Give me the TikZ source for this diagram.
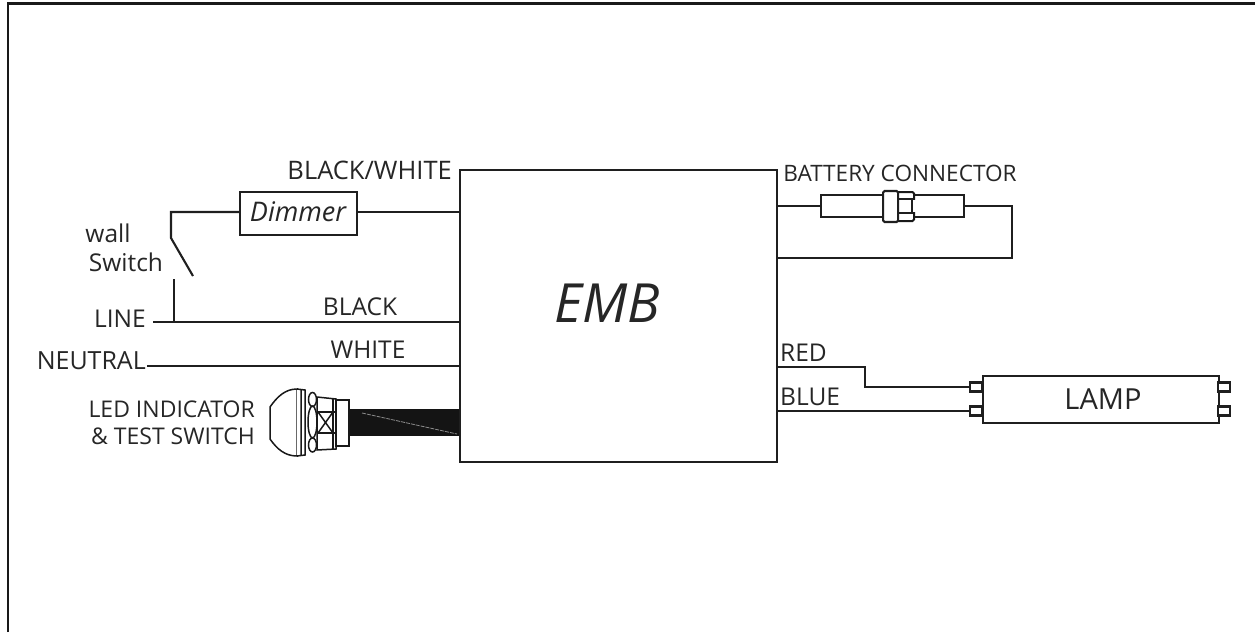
\documentclass[tikz,border=0pt]{standalone}
\usepackage{fontspec}
\setmainfont{Open Sans}
\tikzset{
  x=1pt,y=-1pt,
  wire/.style={draw=black!88,line width=2.1pt},
  part/.style={draw=black!90,line width=2pt,fill=white},
  led/.style={draw=black!90,line width=1.5pt,fill=white},
  lbl/.style={text=black!85,inner sep=0pt,font=\fontsize{24.5}{29}\selectfont},
  box/.style={draw=black!88,line width=2.1pt,fill=white,inner sep=0pt},
}
\begin{document}
\begin{tikzpicture}
\useasboundingbox (0,0) rectangle (1255,632);
% frame
\draw[line width=2.6pt,draw=black!90] (8,632) -- (8,3.5) -- (1255,3.5);
% main box
\node[box,minimum width=317pt,minimum height=292pt,anchor=north west] (emb) at (458.5,169) {};
\node[lbl,font=\fontsize{54}{60}\selectfont\itshape] (embt) at (607,303) {EMB};
% dimmer
\node[box,minimum width=117pt,minimum height=43pt,anchor=north west] (dim) at (239,191) {};
\node[lbl,font=\fontsize{27}{30}\selectfont\itshape] (dimt) at (298,212) {Dimmer};
\coordinate (a1) at (459,212);
\draw[wire] (dim.east |- a1) -- (a1);
\coordinate (sw1) at (171,212);
\coordinate (sw2) at (171,238);
\coordinate (sw3) at (193,276);
\draw[wire] (dim.west |- sw1) -- (sw1) -- (sw2) -- (sw3);
\coordinate (ln0) at (153,322);
\coordinate (ln1) at (174,322);
\coordinate (ln2) at (174,279);
\coordinate (ln3) at (459,322);
\draw[wire] (ln0) -- (ln3);
\draw[wire] (ln2) -- (ln1);
\coordinate (ne0) at (147,366);
\coordinate (ne1) at (459,366);
\draw[wire] (ne0) -- (ne1);
% labels left
\node[lbl,anchor=east,font=\fontsize{25.5}{29}\selectfont] (bw) at (452,170) {BLACK/WHITE};
\node[lbl] (wl) at (108,233) {wall};
\node[lbl] (ws) at (126,262) {Switch};
\node[lbl,anchor=east] (li) at (146,319) {LINE};
\node[lbl] (bl) at (360,307) {BLACK};
\node[lbl,anchor=east,font=\fontsize{25}{29}\selectfont] (ne) at (146,361) {NEUTRAL};
\node[lbl] (wh) at (368,350) {WHITE};
\node[lbl,anchor=east,align=right,font=\fontsize{23}{27}\selectfont] (led) at (255,423) {LED INDICATOR\\\& TEST SWITCH};
% cable
\coordinate (c1) at (349,409);\coordinate (c2) at (459,409);\coordinate (c3) at (459,436);\coordinate (c4) at (349,436);
\fill[black!92] (c1) -- (c2) -- (c3) -- (c4) -- cycle;
\draw[black!45,line width=.8pt,dash pattern=on 4pt off 1pt] (362,413) -- (457,434);
% LED indicator
\draw[led] (297,389) .. controls (285,389) and (277,397) .. (270,407) -- (270,439) .. controls (277,449) and (285,456) .. (297,456) -- cycle;
\draw[led] (297,389) -- (305,390) -- (305,455) -- (297,456) (301,390) -- (301,456);
\draw[led] (317,397) -- (336,399) -- (336,449) -- (317,450) -- cycle;
\draw[led] (336,400) -- (349,400) -- (349,446) -- (336,446) -- cycle;
\draw[led] (312.5,399.5) ellipse (4pt and 7pt);
\draw[led] (312.5,445) ellipse (4pt and 7pt);
\draw[led] (312.5,422) ellipse (4.5pt and 16pt);
\draw[led] (333,398) -- (333,449);
\draw[led] (317,412) -- (336,412) (317,433) -- (336,433);
\draw[led] (318,412) -- (333,433) (318,433) -- (333,412);
% battery
\coordinate (b0) at (776,206);
\coordinate (b1) at (820,206);
\coordinate (b5) at (965,206);
\coordinate (b6) at (1012,206);
\coordinate (b7) at (1012,258);
\coordinate (b8) at (776,258);
\draw[wire] (b0) -- (b1);
\draw[wire] (b5) -- (b6) -- (b7) -- (b8);
\node[box,minimum width=62pt,minimum height=22pt,anchor=west] (bc1) at (b1) {};
\node[box,minimum width=51pt,minimum height=22pt,anchor=east] (bc2) at (b5) {};
\draw[part,rounded corners=1.5pt] (897,192) rectangle (914,221);
\fill[white] (910,200) rectangle (916,212);
\draw[wire] (897,199) -- (912,199) -- (912,213) -- (897,213);
\node[box,minimum width=15pt,minimum height=31pt,anchor=west,rounded corners=1.5pt] (bc3) at (882,206.5) {};
\node[lbl,font=\fontsize{22.6}{27}\selectfont] (bt) at (900,173) {BATTERY CONNECTOR};
% lamp
\node[box,minimum width=236pt,minimum height=47pt,anchor=north west] (lamp) at (982,375) {};
\node[lbl,font=\fontsize{29}{34}\selectfont] (lt) at (1103,399) {LAMP};
\foreach \n/\yy/\xx in {pa/387/976,pb/411/976,pc/387/1224,pd/411/1224}{
  \node[box,minimum width=12pt,minimum height=9pt] (\n) at (\xx,\yy) {};
}
\coordinate (r0) at (776,367);
\coordinate (r1) at (865,367);
\coordinate (r2) at (865,387);
\coordinate (bl0) at (776,411);
\draw[wire] (r0) -- (r1) -- (r2) -- (pa.west);
\draw[wire] (bl0) -- (pb.west);
\node[lbl,anchor=west] (rt) at (780,353) {RED};
\node[lbl,anchor=west] (blt) at (780,397) {BLUE};
\end{tikzpicture}
\end{document}
